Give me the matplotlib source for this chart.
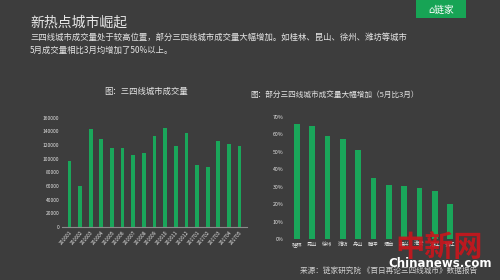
import matplotlib.pyplot as plt
from matplotlib.patches import Rectangle

plt.rcParams['font.family'] = ['Noto Sans CJK SC', 'DejaVu Sans']

# 左图：三四线城市成交量
months = ['201601', '201602', '201603', '201604', '201605', '201606', '201607', '201608', '201609',
          '201610', '201611', '201612', '201701', '201702', '201703', '201704', '201705']
volume = [97000, 60000, 143000, 128000, 115000, 116000, 105000, 108000, 133000,
          145000, 119000, 137000, 91000, 87000, 125000, 122000, 119000]

# 右图：5月比3月增幅
cities = ['桂林', '昆山', '徐州', '潍坊', '舟山', '腾冲', '烟台', '嘉兴', '淮安', '湛江', '镇江']
growth = [66, 65, 59, 57.5, 51, 35, 31, 30.5, 29.5, 27.5, 20]

bg = '#3d3d3d'
green = '#1aa65a'
txt = '#e6e6e6'

fig = plt.figure(figsize=(5, 2.8), dpi=100, facecolor=bg)

# 标题和说明
fig.text(0.06, 0.905, '新热点城市崛起', color=txt, fontsize=10)
fig.text(0.06, 0.858, '三四线城市成交量处于较高位置，部分三四线城市成交量大幅增加。如桂林、昆山、徐州、潍坊等城市',
         color=txt, fontsize=6)
fig.text(0.06, 0.812, '5月成交量相比3月均增加了50%以上。', color=txt, fontsize=6)

# 链家 logo
fig.patches.append(Rectangle((0.832, 0.936), 0.1, 0.064, transform=fig.transFigure,
                             facecolor='#17a455', edgecolor='none'))
fig.text(0.882, 0.965, '⌂链家', color='white', fontsize=7, ha='center', va='center',
         family=['DejaVu Sans', 'Noto Sans CJK SC'])

# 左图
ax1 = fig.add_axes([0.124, 0.19, 0.37, 0.39], facecolor=bg)
ax1.bar(range(len(months)), volume, width=0.35, color=green)
ax1.set_ylim(0, 160000)
ax1.set_yticks(range(0, 160001, 20000))
ax1.set_xlim(-0.7, len(months) - 0.3)
ax1.set_xticks(range(len(months)))
ax1.set_xticklabels(months, rotation=50, ha='right', rotation_mode='anchor')
ax1.tick_params(colors=txt, labelsize=3.5, length=0, pad=2)
for s in ['top', 'right', 'left']:
    ax1.spines[s].set_visible(False)
ax1.spines['bottom'].set_color('#8a8a8a')
fig.text(0.292, 0.665, '图：三四线城市成交量', color=txt, fontsize=6, ha='center')

# 右图
ax2 = fig.add_axes([0.572, 0.146, 0.35, 0.436], facecolor=bg)
ax2.bar(range(len(cities)), growth, width=0.38, color=green)
ax2.set_ylim(0, 70)
ax2.set_yticks(range(0, 71, 10))
ax2.set_yticklabels([f'{v}%' for v in range(0, 71, 10)])
ax2.set_xlim(-0.7, len(cities) - 0.3)
ax2.set_xticks(range(len(cities)))
ax2.set_xticklabels(cities)
ax2.tick_params(colors=txt, labelsize=3.8, length=0, pad=2)
for s in ['top', 'right', 'left', 'bottom']:
    ax2.spines[s].set_visible(False)
fig.text(0.50, 0.65, '图：部分三四线城市成交量大幅增加（5月比3月）', color=txt, fontsize=5.5)

# 来源
fig.text(0.6, 0.025, '来源：链家研究院 《百日再论三四线城市》数据报告', color='#d0d0d0', fontsize=5.5)

# 水印
fig.text(0.878, 0.085, '中新网', color='#c8161d', fontsize=21, fontweight='bold', ha='center', alpha=0.92)
fig.text(0.88, 0.045, 'Chinanews.com', color='white', fontsize=8.5, fontweight='bold', ha='center',
         family=['DejaVu Sans'])

fig.savefig('out.png', dpi=100, facecolor=bg)
